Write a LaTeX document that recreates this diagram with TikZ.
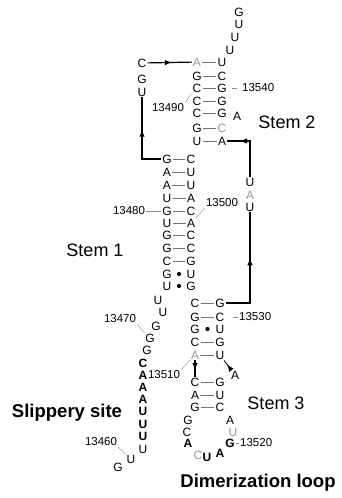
\documentclass[tikz,border=0pt]{standalone}
\usepackage{fontspec}
\setmainfont{Liberation Sans}
\usetikzlibrary{arrows.meta, calc, decorations.markings}

\colorlet{ntgray}{black!40}

\tikzset{
  nt/.style={inner sep=1pt, font=\fontsize{12}{14}\selectfont},
  num/.style={inner sep=1pt, font=\fontsize{11.5}{13}\selectfont},
  bond/.style={black!55, line width=0.5pt},
  tick/.style={black!45, line width=0.4pt},
  link/.style={line width=1.2pt},
  midarrow/.style={decoration={markings, mark=at position #1 with {\arrow{Latex[length=7pt, width=5.5pt]}}}, postaction={decorate}},
  title/.style={font=\fontsize{18}{20}\selectfont},
  titlebold/.style={font=\bfseries\fontsize{18.5}{20}\selectfont}
}

\begin{document}
\begin{tikzpicture}[x=1pt, y=-1pt]
  \useasboundingbox (0,0) rectangle (341,498);

  % stem 2
  \foreach \i/\y/\ba/\bb/\ca/\cb in {1/62/A/U/ntgray/black, 2/76/G/C/black/black, 3/88/C/G/black/black,
      4/101/C/G/black/black, 5/113/C/G/black/black, 6/128/G/C/black/ntgray, 7/141/U/A/black/black} {
    \node[nt, text=\ca] (s2l\i) at (197,\y) {\ba};
    \node[nt, text=\cb] (s2r\i) at (222,\y) {\bb};
    \draw[bond] (s2l\i) -- (s2r\i);
  }

  % stem 1
  \foreach \i/\y/\ba/\bb in {1/159/G/C, 2/172/A/U, 3/185/A/U, 4/198/U/A, 5/211/G/C, 6/223/U/A,
      7/235/G/C, 8/248/G/C, 9/261/C/G, 10/274/G/U, 11/286/U/G} {
    \node[nt] (s1l\i) at (167,\y) {\ba};
    \node[nt] (s1r\i) at (191,\y) {\bb};
  }
  \foreach \i in {1,...,9} \draw[bond] (s1l\i) -- (s1r\i);
  \foreach \i in {10,11} \fill ($(s1l\i)!0.5!(s1r\i)$) circle (2.1);

  % stem 3
  \foreach \i/\y/\ba/\bb/\ca in {1/303/C/G/black, 2/317/G/C/black, 3/329/G/U/black, 4/342/C/G/black,
      5/355/A/U/ntgray, 6/382/C/G/black, 7/395/A/U/black, 8/407/G/C/black} {
    \node[nt, text=\ca] (s3l\i) at (195,\y) {\ba};
    \node[nt] (s3r\i) at (220,\y) {\bb};
  }
  \foreach \i in {1,2,4,5,6,7,8} \draw[bond] (s3l\i) -- (s3r\i);
  \fill ($(s3l3)!0.5!(s3r3)$) circle (2.1);

  % unpaired bases
  \foreach \nm/\x/\y/\bs/\col in {tl1/230/50/U/black, tl2/235/37/U/black, tl3/239/24/U/black, tl4/239/12/G/black,
      lp1/142/63/C/black, lp2/142/79/G/black, lp3/142/92/U/black, bA2/237/116/A/black,
      ln1/250/182/U/black, ln2/250/195/A/ntgray, ln3/250/207/U/black, bA3/235/375/A/black,
      dl1/188/420/G/black, dl2/187/432/C/black, dl3/188/443/\textbf{A}/black, dl4/198/455/C/ntgray,
      dl5/207/457/\textbf{U}/black, dl6/220/453/\textbf{A}/black, dl7/230/443/\textbf{G}/black,
      dl8/233/432/U/ntgray, dl9/230/420/A/black,
      ss1/158/300/U/black, ss2/163/312/U/black, ss3/156/326/G/black, ss4/150/338/G/black, ss5/147/350/G/black,
      ss6/143/363/\textbf{C}/black, ss7/143/375/\textbf{A}/black, ss8/143/387/\textbf{A}/black,
      ss9/143/399/\textbf{A}/black, ss10/143/411.5/\textbf{U}/black, ss11/143/424/\textbf{U}/black,
      ss12/143/436.5/\textbf{U}/black, ss13/143/449/U/black, ss14/131/459/U/black, ss15/118/467/G/black} {
    \node[nt, text=\col] (\nm) at (\x,\y) {\bs};
  }

  % backbone links
  \draw[link, midarrow=0.6] (s1l1.west) -| (lp3.south);
  \draw[link, midarrow=0.55] (lp1) -- (s2l1);
  \draw[link, midarrow=0.78] (ln1.north) |- (s2r7.east);
  \draw[link, midarrow=0.6] (s3r1.east) -| (ln3.south);
  \draw[link, midarrow=0.6] (s3l5) -- (s3l6);
  \draw[link, line width=0.8pt, midarrow=0.55] (bA3) -- (s3r5);

  % numbering
  \node[num] (n13460) at (101,442) {13460};
  \node[num] (n13470) at (120,319) {13470};
  \node[num] (n13480) at (129,211) {13480};
  \node[num] (n13490) at (168,108) {13490};
  \node[num] (n13500) at (222,203) {13500};
  \node[num] (n13510) at (164,375) {13510};
  \node[num, anchor=west] (n13520) at (239,443) {13520};
  \node[num, anchor=west] (n13530) at (238,317) {13530};
  \node[num, anchor=west] (n13540) at (241,88) {13540};

  \draw[tick] (n13460.south east) -- (ss14.north west);
  \draw[tick] (n13470.south east) -- (ss4.north west);
  \draw[tick] (n13480) -- (s1l5);
  \draw[tick] (n13490.north east) -- (s2l3.south west);
  \draw[tick] (s1r6.north east) -- (n13500.south west);
  \draw[tick] (n13510.north east) -- (s3l5.south west);
  \draw[tick] (dl7) -- (n13520);
  \draw[tick, shorten <=7pt] (s3r2) -- (n13530);
  \draw[tick, shorten <=4pt, shorten >=4pt] (s2r3) -- (n13540);

  % region labels
  \node[title] (st1) at (95,250) {Stem 1};
  \node[title] (st2) at (287,122) {Stem 2};
  \node[title] (st3) at (276,403) {Stem 3};
  \node[titlebold] (slip) at (67,413) {Slippery site};
  \node[titlebold] (dimer) at (258,483) {Dimerization loop};
\end{tikzpicture}
\end{document}
